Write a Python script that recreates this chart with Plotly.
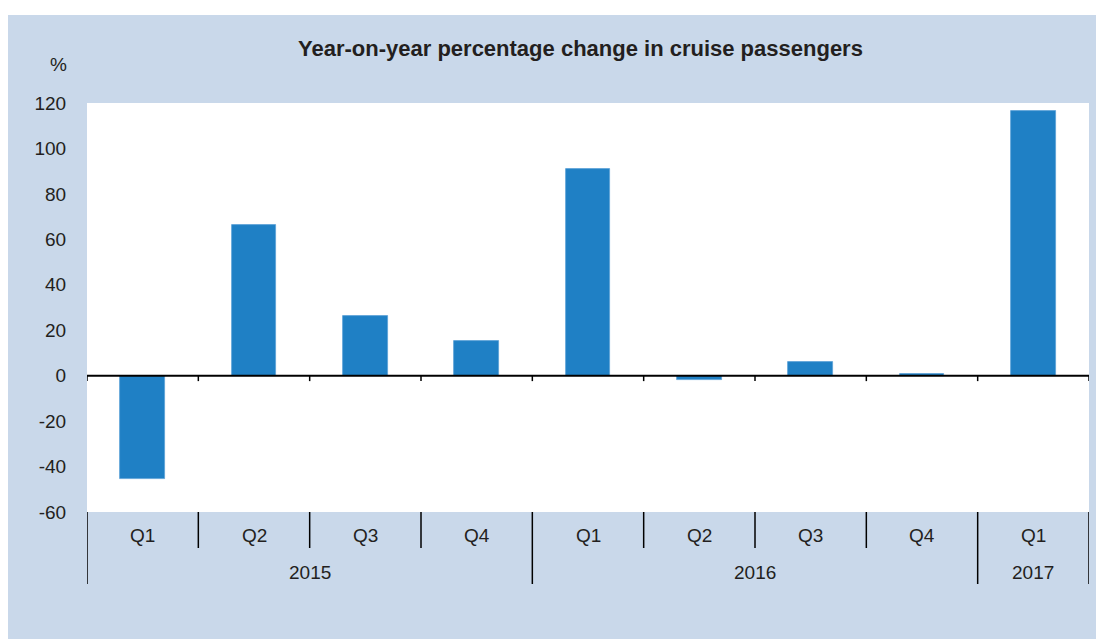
import plotly.graph_objects as go

quarters = ["Q1", "Q2", "Q3", "Q4", "Q1", "Q2", "Q3", "Q4", "Q1"]
years = ["2015", "2016", "2017"]
quarters_per_year = [4, 4, 1]
values = [-45.5, 66.5, 26.3, 15.3, 90.8, -2.0, 5.8, 0.6, 116.5]
y_ticks = [-60, -40, -20, 0, 20, 40, 60, 80, 100, 120]

title_text = "Year-on-year percentage change in cruise passengers"
unit_text = "%"

FONT = "Liberation Sans, Arial, sans-serif"
TXT = "#231F20"
BLUE_BG = "#C9D8EA"
BAR = "#1F80C5"

n = len(values)
xs = list(range(n))

fig = go.Figure()
fig.add_trace(go.Bar(
    x=xs, y=values, width=0.4,
    marker=dict(color=BAR, line=dict(color="#5B9FD6", width=0.8)),
    hoverinfo="x+y",
))

OFF = 8  # page body margin
W, H = 1104 - OFF, 639 - OFF
# plot area in page pixels: x 87..1089, y 103..512
L, R, T, B = 87 - OFF, W - (1089 - OFF), 103 - OFF, H - (512 - OFF)
pw, ph = W - L - R, H - T - B

def px_to_paper_x(px):
    return (px - OFF - L) / pw

def px_to_paper_y(py):
    return (H - B - (py - OFF)) / ph

shapes = []
# white strip above the blue panel
shapes.append(dict(type="rect", xref="paper", yref="paper",
                   x0=px_to_paper_x(0), x1=px_to_paper_x(1110),
                   y0=px_to_paper_y(15), y1=px_to_paper_y(0),
                   fillcolor="white", line=dict(width=0), layer="below"))

# zero line
shapes.append(dict(type="line", xref="x", yref="y", x0=-0.5, x1=n - 0.5, y0=0, y1=0,
                   line=dict(color="black", width=2), layer="above"))
# small ticks on zero line at category boundaries
for i in range(n + 1):
    b = i - 0.5
    shapes.append(dict(type="line", xref="x", yref="y", x0=b, x1=b, y0=0, y1=-2.4,
                       line=dict(color="black", width=1.5), layer="above"))

# category separators below the plot
group_bounds = [-0.5]
acc = -0.5
for q in quarters_per_year:
    acc += q
    group_bounds.append(acc)
y_short = px_to_paper_y(548)
y_long = px_to_paper_y(584)
for i in range(n + 1):
    b = i - 0.5
    long = any(abs(b - g) < 1e-9 for g in group_bounds)
    shapes.append(dict(type="line", xref="x", yref="paper", x0=b, x1=b, y0=0,
                       y1=y_long if long else y_short,
                       line=dict(color="black", width=1.5)))

annotations = []
for i, q in enumerate(quarters):
    annotations.append(dict(x=i, y=px_to_paper_y(535), xref="x", yref="paper",
                            text=q, showarrow=False, yanchor="middle",
                            font=dict(family=FONT, size=19, color=TXT)))
start = 0
for yr, cnt in zip(years, quarters_per_year):
    center = start + (cnt - 1) / 2
    annotations.append(dict(x=center, y=px_to_paper_y(572), xref="x", yref="paper",
                            text=yr, showarrow=False, yanchor="middle",
                            font=dict(family=FONT, size=19, color=TXT)))
    start += cnt
annotations.append(dict(x=px_to_paper_x(69), y=px_to_paper_y(65), xref="paper", yref="paper",
                        text=unit_text, showarrow=False, xanchor="right", yanchor="middle",
                        font=dict(family=FONT, size=19, color=TXT)))
annotations.append(dict(x=px_to_paper_x(580), y=px_to_paper_y(48), xref="paper", yref="paper",
                        text="<b>" + title_text + "</b>", showarrow=False,
                        xanchor="center", yanchor="middle",
                        font=dict(family=FONT, size=22, color=TXT)))

fig.update_layout(
    width=W, height=H,
    margin=dict(l=L, r=R, t=T, b=B, pad=0),
    paper_bgcolor=BLUE_BG,
    plot_bgcolor="white",
    showlegend=False,
    bargap=0,
    xaxis=dict(range=[-0.5, n - 0.5], showticklabels=False, showgrid=False,
               zeroline=False, showline=False, ticks="", fixedrange=True),
    yaxis=dict(range=[y_ticks[0], y_ticks[-1]], tickvals=y_ticks,
               ticktext=[str(v) for v in y_ticks],
               showgrid=False, zeroline=False, showline=False,
               ticks="outside", ticklen=16, tickcolor="rgba(0,0,0,0)",
               tickfont=dict(family=FONT, size=19, color=TXT)),
    shapes=shapes,
    annotations=annotations,
)

fig.write_html("out.html")
